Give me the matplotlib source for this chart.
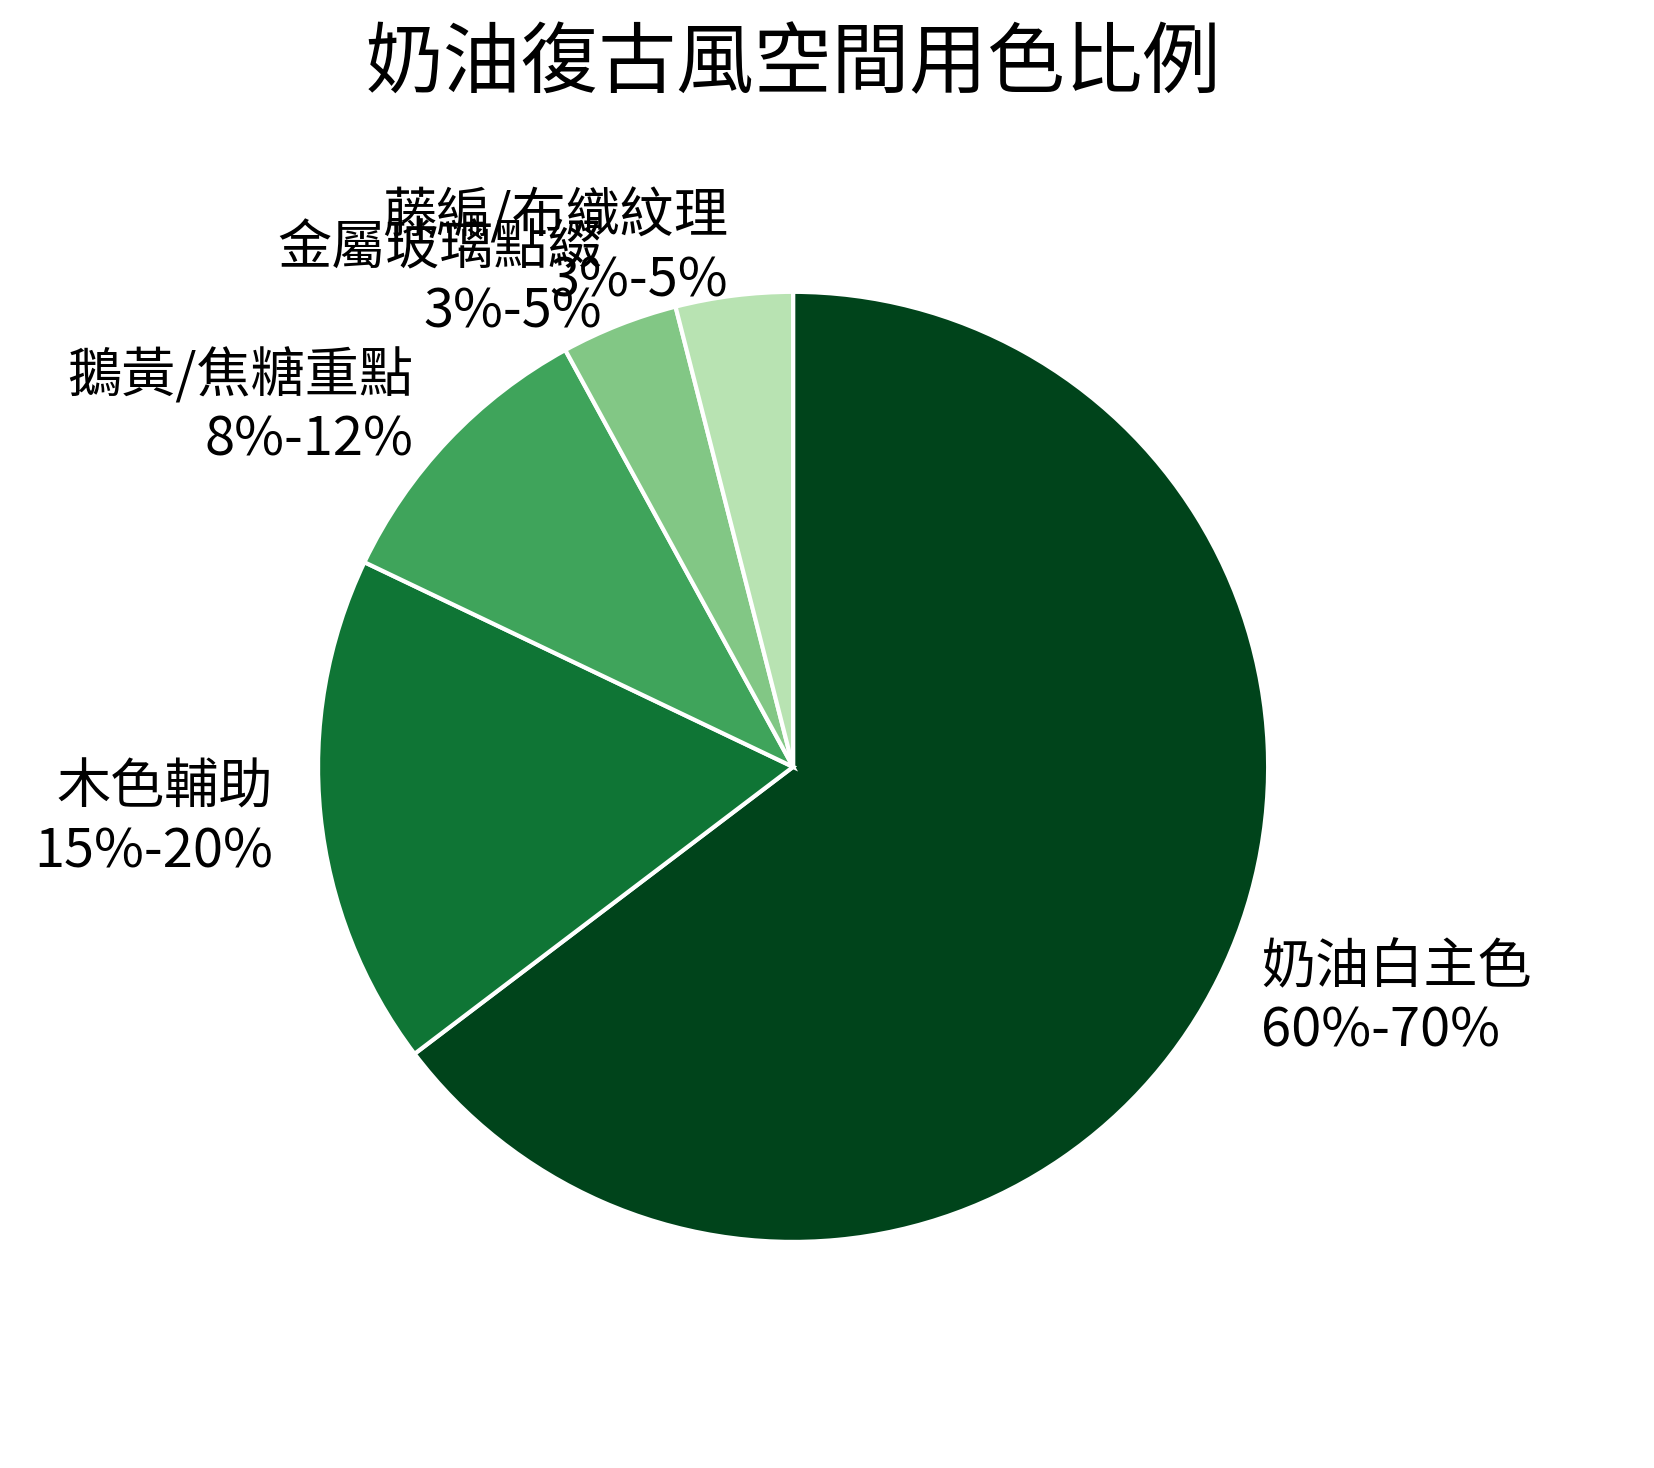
import matplotlib
matplotlib.use("Agg")
from matplotlib import pyplot as plt

plt.rcParams['font.family'] = ['Noto Sans CJK TC', 'DejaVu Sans']

# 各區塊用色比例 (取區間中間值)
names = ['奶油白主色', '木色輔助', '鵝黃/焦糖重點', '金屬玻璃點綴', '藤編/布織紋理']
ranges = ['60%-70%', '15%-20%', '8%-12%', '3%-5%', '3%-5%']
values = [65, 17.5, 10, 4, 4]
colors = ['#00441b', '#0f7535', '#3fa45b', '#82c785', '#b8e3b2']

labels = [n + '\n' + r for n, r in zip(names, ranges)]

fig = plt.figure(figsize=(16.54, 14.68), dpi=100)
ax = fig.add_axes([0.1205, 0.0731, 0.718, 0.809])

ax.pie(values, labels=labels, colors=colors, startangle=90, counterclock=False,
       labeldistance=1.1, textprops={'fontsize': 39},
       wedgeprops={'edgecolor': 'white', 'linewidth': 3})
ax.set_aspect('equal')

fig.text(0.4795, 1 - 65 / 1468, '奶油復古風空間用色比例', fontsize=56,
         ha='center', va='center')

fig.savefig('out.png', dpi=100, facecolor='white')
